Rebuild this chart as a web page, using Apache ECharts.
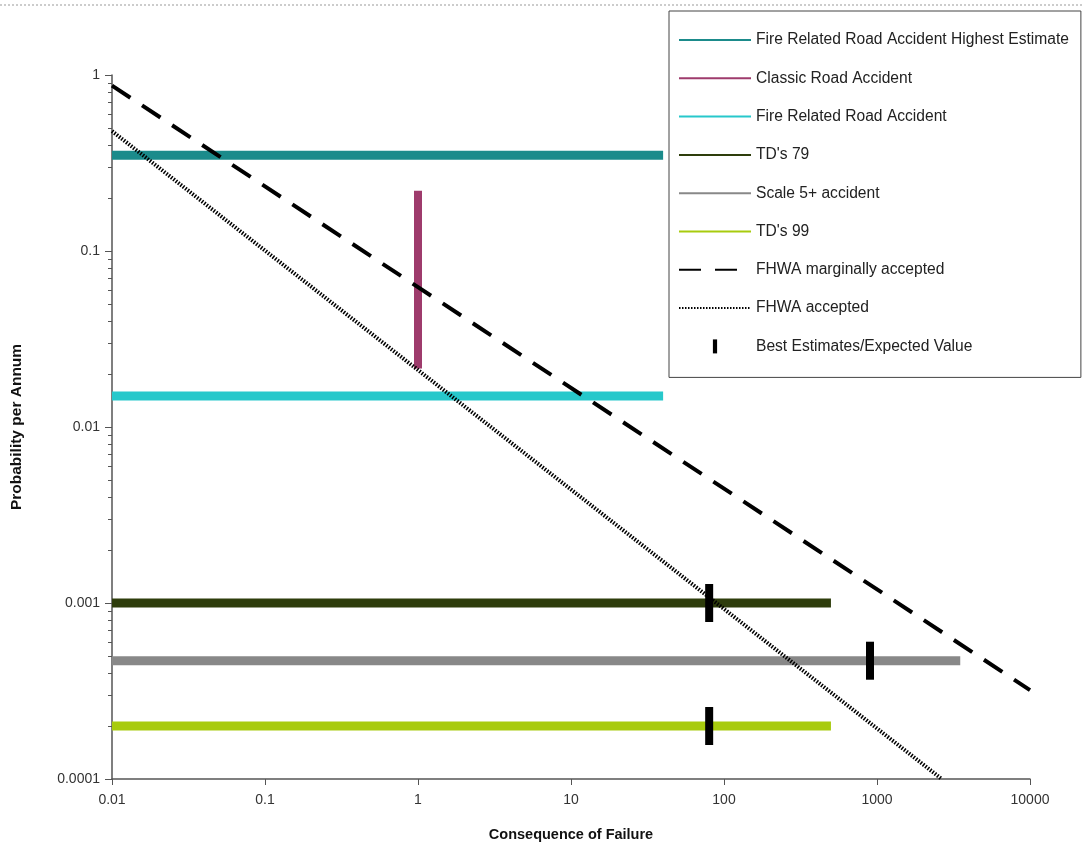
<!DOCTYPE html>
<html>
<head>
<meta charset="utf-8">
<title>Consequence of Failure</title>
<script src="https://cdn.jsdelivr.net/npm/echarts@6/dist/echarts.min.js"></script>
<style>
    html, body { margin: 0; padding: 0; background: #fff; }
    #chart { width: 1082px; height: 845px; }
</style>
</head>
<body>
<div id="chart"></div>
<script>
// values (x = consequence, y = probability per annum)
const seriesNames = [
    'Fire Related Road Accident Highest Estimate',
    'Classic Road Accident',
    'Fire Related Road Accident',
    "TD's 79",
    'Scale 5+ accident',
    "TD's 99",
    'FHWA marginally accepted',
    'FHWA accepted',
    'Best Estimates/Expected Value'
];
const fireHighest = [[0.01, 0.35], [40, 0.35]];
const classicRoad = [[1, 0.22], [1, 0.0215]];
const fireRoad = [[0.01, 0.015], [40, 0.015]];
const td79 = [[0.01, 0.001], [500, 0.001]];
const scale5 = [[0.01, 0.00047], [3500, 0.00047]];
const td99 = [[0.01, 0.0002], [500, 0.0002]];
const fhwaMarginal = [[0.01, 0.87], [10000, 0.00032]];
const fhwaAccepted = [[0.01, 0.48], [2650, 0.0001]];
const bestEstimates = [[80, 0.001], [900, 0.00047], [80, 0.0002]];

const xTickLabels = ['0.01', '0.1', '1', '10', '100', '1000', '10000'];
const yTickLabels = ['0.0001', '0.001', '0.01', '0.1', '1'];

const colors = ['#1b8b8b', '#9e3b6c', '#27c8cb', '#2e3d0c', '#888888', '#a8cb0e', '#000', '#000', '#000'];

const chart = echarts.init(document.getElementById('chart'));

function tickLabel(list, min) {
    return function (value) {
        const i = Math.round(Math.log10(value) - Math.log10(min));
        return list[i] || '';
    };
}

function barLine(idx, data, width) {
    return {
        name: seriesNames[idx],
        type: 'line',
        data: data,
        symbol: 'none',
        color: colors[idx],
        lineStyle: { color: colors[idx], width: width, cap: 'butt' }
    };
}

const series = [
    barLine(0, fireHighest, 9),
    barLine(1, classicRoad, 8),
    barLine(2, fireRoad, 9),
    barLine(3, td79, 9),
    barLine(4, scale5, 9),
    barLine(5, td99, 9),
    {
        name: seriesNames[6],
        type: 'line',
        data: fhwaMarginal,
        symbol: 'none',
        color: '#000',
        lineStyle: { color: '#000', width: 4, type: [22, 14] }
    },
    {
        name: seriesNames[7],
        type: 'line',
        data: fhwaAccepted,
        symbol: 'none',
        color: '#000',
        lineStyle: { color: '#000', width: 4, type: [1.5, 1.5] }
    },
    {
        name: seriesNames[8],
        type: 'scatter',
        data: bestEstimates,
        symbol: 'rect',
        symbolSize: [8, 38],
        itemStyle: { color: '#000', opacity: 1 },
        z: 5
    }
];

const option = {
    animation: false,
    backgroundColor: '#fff',
    textStyle: { fontFamily: 'Liberation Sans, Arial, sans-serif' },
    grid: { left: 112, right: 52, top: 75, bottom: 66, outerBoundsMode: 'none' },
    legend: {
        orient: 'vertical',
        left: 669,
        top: 11,
        padding: [21, 12, 23, 9],
        itemWidth: 72,
        itemHeight: 14,
        itemGap: 22.3,
        borderColor: '#444',
        borderWidth: 1,
        backgroundColor: '#fff',
        textStyle: { color: '#222', fontSize: 15.6 },
        lineStyle: { width: 2 },
        data: seriesNames.map((name, i) => i === 8
            ? { name: name, icon: 'path://M0,0h3v10h-3z' }
            : { name: name, itemStyle: { opacity: 0 } })
    },
    xAxis: {
        type: 'log',
        logBase: 10,
        min: 0.01,
        max: 10000,
        name: 'Consequence of Failure',
        nameLocation: 'middle',
        nameGap: 48,
        nameTextStyle: { fontSize: 14.5, fontWeight: 'bold', color: '#111' },
        axisLine: { lineStyle: { color: '#555', width: 1.5 } },
        axisTick: { show: true, length: 6, lineStyle: { color: '#555' } },
        axisLabel: { color: '#333', fontSize: 14, margin: 14, formatter: tickLabel(xTickLabels, 0.01) },
        splitLine: { show: false }
    },
    yAxis: {
        type: 'log',
        logBase: 10,
        min: 0.0001,
        max: 1,
        name: 'Probability per Annum',
        nameLocation: 'middle',
        nameRotate: 90,
        nameGap: 87,
        nameTextStyle: { fontSize: 15.5, fontWeight: 'bold', color: '#111' },
        axisLine: { show: true, lineStyle: { color: '#555', width: 1.5 } },
        axisTick: { show: true, length: 7, lineStyle: { color: '#555' } },
        minorTick: { show: true, splitNumber: 9, length: 4, lineStyle: { color: '#555' } },
        axisLabel: { color: '#333', fontSize: 14, margin: 12, formatter: tickLabel(yTickLabels, 0.0001) },
        splitLine: { show: false }
    },
    graphic: [{
        type: 'line',
        shape: { x1: 0, y1: 5, x2: 1082, y2: 5 },
        style: { stroke: '#999', lineWidth: 1, lineDash: [2, 2] }
    }],
    series: series
};

chart.setOption(option);
</script>
</body>
</html>
